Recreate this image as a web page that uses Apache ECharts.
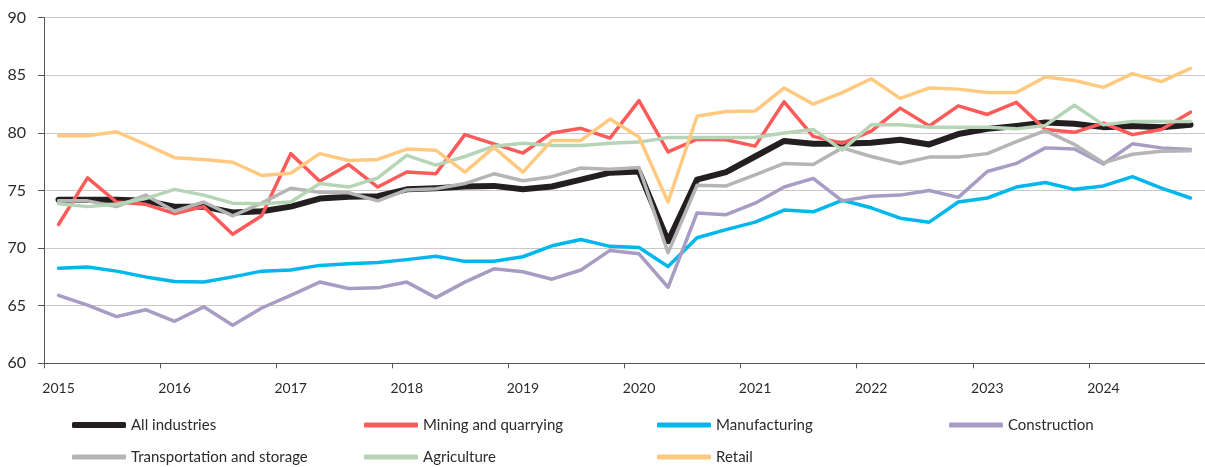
<!DOCTYPE html>
<html>
<head>
<meta charset="utf-8">
<script src="https://cdn.jsdelivr.net/npm/echarts@6/dist/echarts.min.js"></script>
<style>
  html, body { margin: 0; padding: 0; background: #fff; }
  #chart { width: 1205px; height: 467px; }
</style>
</head>
<body>
<div id="chart"></div>
<script>
// Quarterly observations, 2015 Q1 – 2024 Q4
const quarters = [];
for (let y = 2015; y <= 2024; y++) {
  for (let q = 1; q <= 4; q++) quarters.push(y + ' Q' + q);
}

const allIndustries = [74.2, 74.2, 74.2, 74.1, 73.6, 73.6, 73.1, 73.2, 73.6, 74.3,
  74.45, 74.5, 75.1, 75.2, 75.35, 75.4, 75.1, 75.35, 75.95, 76.55,
  76.65, 70.6, 75.95, 76.6, 77.95, 79.3, 79.05, 79.05, 79.15, 79.4,
  79.0, 79.9, 80.35, 80.6, 80.9, 80.8, 80.5, 80.6, 80.5, 80.7];

const mining = [72.05, 76.1, 74.0, 73.8, 73.0, 73.6, 71.2, 72.8, 78.2, 75.8,
  77.25, 75.3, 76.6, 76.45, 79.85, 79.05, 78.25, 80.0, 80.4, 79.55,
  82.8, 78.35, 79.45, 79.4, 78.85, 82.7, 79.7, 79.1, 80.15, 82.15,
  80.6, 82.35, 81.6, 82.65, 80.3, 80.05, 80.85, 79.85, 80.3, 81.8];

const manufacturing = [68.25, 68.35, 68.0, 67.5, 67.1, 67.05, 67.5, 68.0, 68.1, 68.5,
  68.65, 68.75, 69.0, 69.3, 68.85, 68.85, 69.25, 70.2, 70.75, 70.15,
  70.05, 68.4, 70.9, 71.6, 72.25, 73.3, 73.15, 74.15, 73.5, 72.6,
  72.25, 74.0, 74.35, 75.3, 75.7, 75.1, 75.4, 76.2, 75.2, 74.35];

const construction = [65.9, 65.05, 64.05, 64.65, 63.65, 64.9, 63.3, 64.8, 65.9, 67.05,
  66.5, 66.55, 67.05, 65.7, 67.05, 68.2, 67.95, 67.3, 68.1, 69.8,
  69.5, 66.6, 73.05, 72.9, 73.9, 75.3, 76.05, 74.1, 74.5, 74.6,
  75.0, 74.4, 76.65, 77.35, 78.7, 78.6, 77.3, 79.05, 78.7, 78.55];

const transport = [74.1, 74.1, 73.6, 74.6, 73.2, 74.0, 72.8, 73.9, 75.2, 74.85,
  74.8, 74.1, 75.05, 75.15, 75.6, 76.45, 75.85, 76.2, 76.95, 76.85,
  77.0, 69.6, 75.45, 75.4, 76.35, 77.35, 77.25, 78.7, 77.95, 77.35,
  77.9, 77.9, 78.2, 79.25, 80.2, 79.0, 77.4, 78.15, 78.4, 78.45];

const agriculture = [73.85, 73.6, 73.8, 74.3, 75.1, 74.6, 73.9, 73.85, 74.0, 75.6,
  75.3, 76.1, 78.05, 77.2, 77.95, 78.85, 79.1, 78.9, 78.9, 79.1,
  79.2, 79.6, 79.6, 79.6, 79.6, 80.0, 80.3, 78.5, 80.7, 80.7,
  80.5, 80.5, 80.5, 80.35, 80.65, 82.4, 80.7, 81.0, 81.0, 81.0];

const retail = [79.75, 79.75, 80.1, 79.0, 77.85, 77.7, 77.45, 76.3, 76.5, 78.2,
  77.6, 77.7, 78.6, 78.5, 76.6, 78.75, 76.6, 79.35, 79.35, 81.2,
  79.65, 74.0, 81.45, 81.85, 81.9, 83.9, 82.5, 83.5, 84.7, 83.0,
  83.9, 83.8, 83.5, 83.5, 84.85, 84.55, 83.95, 85.15, 84.45, 85.6];

const seriesDefs = [
  { name: 'All industries',             data: allIndustries, color: '#231f20', width: 6 },
  { name: 'Mining and quarrying',       data: mining,        color: '#fd5a5a', width: 3.5 },
  { name: 'Manufacturing',              data: manufacturing, color: '#00b7ec', width: 3.5 },
  { name: 'Construction',               data: construction,  color: '#a79cc3', width: 3.5 },
  { name: 'Transportation and storage', data: transport,     color: '#b5b5b5', width: 3.5 },
  { name: 'Agriculture',                data: agriculture,   color: '#b6d5b6', width: 3.5 },
  { name: 'Retail',                     data: retail,        color: '#ffc980', width: 3.5 }
];

const FONT = 'Lato, "Open Sans", sans-serif';
const TEXT = '#2b2b2b';

// Legend in a fixed 4-column grid
const colLeft = [72, 364, 657, 949];
const rowTop = [416, 448];
const legends = seriesDefs.map((s, i) => ({
  data: [s.name],
  left: colLeft[i % 4],
  top: rowTop[Math.floor(i / 4)],
  padding: 0,
  orient: 'horizontal',
  icon: 'roundRect',
  itemWidth: 54,
  itemHeight: i === 0 ? 6 : 5,
  selectedMode: false,
  textStyle: { fontFamily: FONT, fontSize: 15, color: TEXT, lineHeight: 18 }
}));

const chart = echarts.init(document.getElementById('chart'), null, { renderer: 'canvas' });
chart.setOption({
  animation: false,
  backgroundColor: '#ffffff',
  grid: { left: 44, right: -10, top: 17.7, bottom: 103.7, containLabel: false },
  legend: legends,
  xAxis: {
    type: 'category',
    data: quarters,
    boundaryGap: true,
    axisLine: { lineStyle: { color: '#555', width: 1 } },
    axisTick: { show: true, interval: 3, length: 5, lineStyle: { color: '#555' } },
    axisLabel: {
      interval: 3,
      margin: 18,
      fontFamily: FONT,
      fontSize: 14,
      color: TEXT,
      formatter: v => v.slice(0, 4)
    },
    splitLine: { show: false }
  },
  yAxis: {
    type: 'value',
    min: 60,
    max: 90,
    interval: 5,
    axisLine: { show: true, lineStyle: { color: '#555', width: 1 } },
    axisTick: { show: true, length: 6, lineStyle: { color: '#555' } },
    axisLabel: { margin: 18, fontFamily: FONT, fontSize: 16, color: TEXT },
    splitLine: { lineStyle: { color: '#c9c9c9', width: 1 } }
  },
  series: seriesDefs.map(s => ({
    name: s.name,
    type: 'line',
    data: s.data,
    symbol: 'none',
    color: s.color,
    lineStyle: { color: s.color, width: s.width, join: 'round', cap: 'round' },
    emphasis: { disabled: true }
  }))
});
</script>
</body>
</html>
